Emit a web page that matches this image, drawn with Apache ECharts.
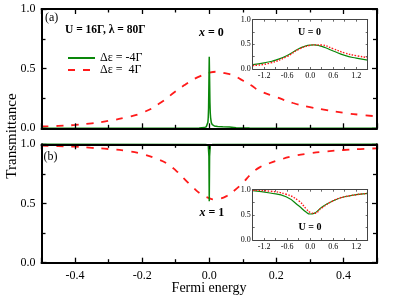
<!DOCTYPE html>
<html>
<head>
<meta charset="utf-8">
<script src="https://cdn.jsdelivr.net/npm/echarts@6/dist/echarts.min.js"></script>
<style>html,body{margin:0;padding:0;background:#fff}#c{width:415px;height:301px}</style>
</head>
<body>
<div id="c"></div>
<script>
// ---------- data ----------
// Panel (a), x = 0
const aGreenE = [-0.5,-0.1,-0.03,-0.015,-0.009,-0.006,-0.004,-0.003,-0.002,-0.001,0,0.001,0.002,0.003,0.004,0.006,0.009,0.015,0.025,0.04,0.06,0.08,0.12,0.5];
const aGreenT = [0,0.001,0.003,0.006,0.012,0.025,0.05,0.09,0.17,0.38,0.6,0.42,0.22,0.13,0.09,0.05,0.03,0.02,0.015,0.012,0.01,0.005,0.002,0.001];
const aRedE = [-0.5,-0.45,-0.4,-0.35,-0.3,-0.25,-0.2,-0.15,-0.1,-0.075,-0.05,-0.025,0,0.02,0.05,0.075,0.1,0.125,0.15,0.2,0.25,0.3,0.35,0.4,0.45,0.5];
const aRedT = [0.015,0.02,0.028,0.042,0.062,0.09,0.13,0.205,0.31,0.36,0.405,0.44,0.465,0.474,0.46,0.44,0.4,0.36,0.315,0.262,0.212,0.178,0.152,0.13,0.113,0.1];
// Panel (b), x = 1
const bGreenE = [-0.5,-0.01,-0.003,-0.001,0,0.001,0.003,0.01,0.5];
const bGreenT = [1,0.998,0.99,0.9,0.52,0.9,0.99,0.998,1];
const bRedE = [-0.5,-0.45,-0.4,-0.35,-0.3,-0.25,-0.2,-0.15,-0.125,-0.1,-0.075,-0.05,-0.025,0,0.015,0.03,0.05,0.075,0.1,0.125,0.15,0.175,0.2,0.25,0.3,0.35,0.4,0.45,0.5];
const bRedT = [0.99,0.985,0.98,0.97,0.96,0.945,0.918,0.87,0.835,0.78,0.71,0.64,0.58,0.545,0.535,0.54,0.56,0.61,0.675,0.75,0.805,0.835,0.86,0.9,0.924,0.94,0.952,0.96,0.966];
// Insets, U = 0
const iaGreenE = [-1.5,-1.2,-1.05,-0.9,-0.6,-0.3,-0.15,0,0.1,0.25,0.4,0.6,0.9,1.2,1.5];
const iaGreenT = [0.088,0.125,0.149,0.18,0.275,0.41,0.46,0.485,0.488,0.47,0.43,0.365,0.275,0.22,0.18];
const iaRedE = [-1.5,-1.05,-0.6,-0.3,0,0.1,0.3,0.6,0.9,1.2,1.5];
const iaRedT = [0.07,0.12,0.255,0.4,0.48,0.49,0.486,0.41,0.325,0.27,0.23];
const ibGreenE = [-1.5,-1.05,-0.63,-0.3,-0.1,0,0.1,0.3,0.6,0.9,1.5];
const ibGreenT = [0.98,0.934,0.86,0.68,0.55,0.517,0.53,0.65,0.78,0.86,0.927];
const ibRedE = [-1.5,-1.05,-0.63,-0.3,-0.1,0,0.1,0.3,0.6,0.9,1.5];
const ibRedT = [0.99,0.97,0.91,0.78,0.616,0.55,0.53,0.636,0.78,0.86,0.927];
// tick labels
const mainXLabels = [-0.4,-0.2,0,0.2,0.4];
const mainYLabels = [0,0.5,1];
const insetXLabels = [-1.2,-0.6,0,0.6,1.2];
const insetYLabels = [0,0.5,1];
const nameGreen = 'Δε = -4Γ';
const nameRed = 'Δε =  4Γ';

// ---------- build ----------
const FF = 'Liberation Serif';
const zip = (xs, ys) => xs.map((x, i) => [x, ys[i]]);
const fmt = v => (Math.abs(v) < 1e-9 ? 0 : v).toFixed(1);
const inList = (list) => v => list.some(t => Math.abs(t - v) < 1e-6) ? fmt(v) : '';

function mainX(grid, pos, labels) {
  return {
    type: 'value', gridIndex: grid, position: pos, min: -0.5, max: 0.5, splitNumber: 5, z: 5,
    axisLine: { show: true, onZero: false, lineStyle: { color: '#000', width: 2 } },
    axisTick: { show: true, inside: true, length: 5, lineStyle: { color: '#000', width: 1.3 } },
    minorTick: { show: true, splitNumber: 2, length: 3.5, lineStyle: { color: '#000', width: 1.3 } },
    splitLine: { show: false }, minorSplitLine: { show: false },
    axisLabel: { show: labels, showMinLabel: false, showMaxLabel: false, margin: 7, formatter: inList(mainXLabels),
      fontFamily: FF, fontSize: 12, color: '#000' }
  };
}
function mainY(grid, pos, labels) {
  return {
    type: 'value', gridIndex: grid, position: pos, min: 0, max: 1, interval: 0.5, z: 5,
    axisLine: { show: true, onZero: false, lineStyle: { color: '#000', width: 2 } },
    axisTick: { show: true, inside: true, length: 5, lineStyle: { color: '#000', width: 1.3 } },
    minorTick: { show: true, splitNumber: 2, length: 4, lineStyle: { color: '#000', width: 1.3 } },
    splitLine: { show: false }, minorSplitLine: { show: false },
    axisLabel: { show: labels, margin: 6, formatter: inList(mainYLabels), fontFamily: FF, fontSize: 12, color: '#000' }
  };
}
function insetX(grid, pos, labels) {
  return {
    type: 'value', gridIndex: grid, position: pos, min: -1.5, max: 1.5, interval: 0.3, z: 5,
    axisLine: { show: true, onZero: false, lineStyle: { color: '#444', width: 1 } },
    axisTick: { show: true, inside: true, length: 2, lineStyle: { color: '#444', width: 0.8 } },
    splitLine: { show: false },
    axisLabel: { show: labels, margin: 3, formatter: inList(insetXLabels), fontFamily: FF, fontSize: 8, color: '#000' }
  };
}
function insetY(grid, pos, labels) {
  return {
    type: 'value', gridIndex: grid, position: pos, min: 0, max: 1, interval: 0.25, z: 5,
    axisLine: { show: true, onZero: false, lineStyle: { color: '#444', width: 1 } },
    axisTick: { show: true, inside: true, length: 2, lineStyle: { color: '#444', width: 0.8 } },
    splitLine: { show: false },
    axisLabel: { show: labels, margin: 2, formatter: inList(insetYLabels), fontFamily: FF, fontSize: 8, color: '#000' }
  };
}

const GREEN = '#0a870a', RED = '#ff1a1a';
function line(name, xi, yi, data, color, type, width, smooth) {
  return { type: 'line', name, xAxisIndex: xi, yAxisIndex: yi, data, showSymbol: false, symbol: 'none',
    smooth, clip: false, animation: false, lineStyle: { color, width, type }, itemStyle: { color } };
}

const option = {
  animation: false,
  backgroundColor: '#fff',
  grid: [
    { left: 41.5, top: 9, width: 335.5, height: 119.3 },
    { left: 41.5, top: 144.3, width: 335.5, height: 118.4 },
    { left: 252.7, top: 19.7, width: 115, height: 49.3, show: true, backgroundColor: '#fff', borderWidth: 0 },
    { left: 252.7, top: 189.7, width: 115, height: 50.3, show: true, backgroundColor: '#fff', borderWidth: 0 }
  ],
  xAxis: [
    mainX(0, 'bottom', false), mainX(0, 'top', false),
    mainX(1, 'bottom', true), mainX(1, 'top', false),
    insetX(2, 'bottom', true), insetX(2, 'top', false),
    insetX(3, 'bottom', true), insetX(3, 'top', false)
  ],
  yAxis: [
    mainY(0, 'left', true), mainY(0, 'right', false),
    mainY(1, 'left', true), mainY(1, 'right', false),
    insetY(2, 'left', true), insetY(2, 'right', false),
    insetY(3, 'left', true), insetY(3, 'right', false)
  ],
  legend: {
    data: [nameGreen, nameRed], orient: 'vertical', left: 67, top: 52, padding: 0,
    itemWidth: 27, itemHeight: 14, itemGap: 0,
    itemStyle: { opacity: 0 },
    selectedMode: false, textStyle: { fontFamily: FF, fontSize: 12, color: '#000' }
  },
  series: [
    line(nameRed, 0, 0, zip(aRedE, aRedT), RED, [7, 8], 1.8, true),
    line(nameGreen, 0, 0, zip(aGreenE, aGreenT), GREEN, 'solid', 1.5, false),
    line(nameRed, 2, 2, zip(bRedE, bRedT), RED, [7, 8], 1.8, true),
    line(nameGreen, 2, 2, zip(bGreenE, bGreenT), GREEN, 'solid', 1.5, false),
    line('insetG1', 4, 4, zip(iaGreenE, iaGreenT), GREEN, 'solid', 1.2, true),
    line('insetR1', 4, 4, zip(iaRedE, iaRedT), RED, [1.5, 1.5], 1.4, true),
    line('insetG2', 6, 6, zip(ibGreenE, ibGreenT), GREEN, 'solid', 1.2, true),
    line('insetR2', 6, 6, zip(ibRedE, ibRedT), RED, [1.5, 1.5], 1.4, true)
  ],
  graphic: [
    { type: 'text', x: 45, y: 17.5, style: { text: '(a)', font: '12px ' + FF, fill: '#000', textVerticalAlign: 'middle' } },
    { type: 'text', x: 43.5, y: 157, style: { text: '(b)', font: '12px ' + FF, fill: '#000', textVerticalAlign: 'middle' } },
    { type: 'text', x: 65, y: 30, style: { text: 'U = 16Γ, λ = 80Γ', font: 'bold 11.5px ' + FF, fill: '#000', textVerticalAlign: 'middle' } },
    { type: 'text', x: 199, y: 33, style: { text: '{i|x} = 0', font: 'bold 12px ' + FF, fill: '#000', textVerticalAlign: 'middle',
        rich: { i: { font: 'italic bold 12px ' + FF, fill: '#000' } } } },
    { type: 'text', x: 199.5, y: 212.5, style: { text: '{i|x} = 1', font: 'bold 12px ' + FF, fill: '#000', textVerticalAlign: 'middle',
        rich: { i: { font: 'italic bold 12px ' + FF, fill: '#000' } } } },
    { type: 'text', x: 309.5, y: 32.5, z: 10, style: { text: 'U = 0', font: 'bold 10px ' + FF, fill: '#000', textAlign: 'center', textVerticalAlign: 'middle' } },
    { type: 'text', x: 310, y: 227, z: 10, style: { text: 'U = 0', font: 'bold 10px ' + FF, fill: '#000', textAlign: 'center', textVerticalAlign: 'middle' } },
    { type: 'text', x: 12, y: 136, rotation: Math.PI / 2, style: { text: 'Transmittance', font: '15px ' + FF, fill: '#000', textAlign: 'center', textVerticalAlign: 'middle' } },
    { type: 'text', x: 209, y: 288, style: { text: 'Fermi energy', font: '14px ' + FF, fill: '#000', textAlign: 'center', textVerticalAlign: 'middle' } }
  ]
};
const chart = echarts.init(document.getElementById('c'), null, { renderer: 'canvas' });
chart.setOption(option);
</script>
</body>
</html>
